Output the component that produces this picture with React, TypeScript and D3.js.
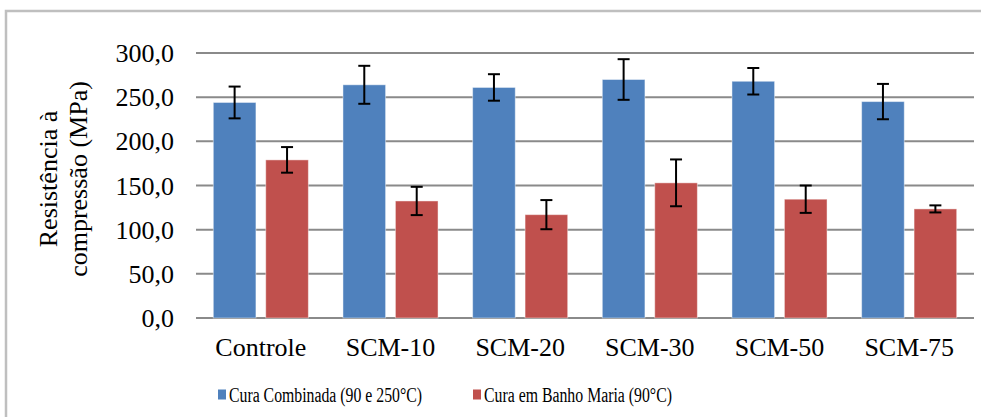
import React, { useEffect, useRef } from 'react';
import * as d3 from 'd3';

// Resistência à compressão por grupo de cura
const categories = ['Controle', 'SCM-10', 'SCM-20', 'SCM-30', 'SCM-50', 'SCM-75'];
const seriesNames = ['Cura Combinada (90 e 250°C)', 'Cura em Banho Maria (90°C)'];
const seriesColors = ['#4F81BD', '#C0504D'];
const combinada = [244, 264, 261, 270, 268, 245];
const combinadaErr = [18, 21.5, 15, 23, 15, 20];
const banhoMaria = [179, 132.5, 117, 153, 134.5, 123.5];
const banhoMariaErr = [14.5, 16, 16.5, 26.5, 15.5, 4];
const yTicks = [0, 50, 100, 150, 200, 250, 300];

const FONT = '"Liberation Serif", "Times New Roman", Times, serif';

const App = () => {
    const svgRef = useRef<SVGSVGElement>(null);

    useEffect(() => {
        if (!svgRef.current) return;
        const svg = d3.select(svgRef.current);
        svg.selectAll('*').remove();

        const width = 981;
        const height = 417;
        const left = 196;
        const right = 974;
        const top = 53;
        const bottom = 318;

        // outer chart frame (only top/left are visible in the crop)
        svg.append('rect')
            .attr('x', 6)
            .attr('y', 11)
            .attr('width', width + 40)
            .attr('height', height + 40)
            .attr('fill', 'white')
            .attr('stroke', '#bfbfbf')
            .attr('stroke-width', 2.5);

        const x0 = d3.scaleBand().domain(categories).range([left, right]).paddingInner(0).paddingOuter(0);
        const x1 = d3.scaleBand().domain(['0', '1']).range([0, x0.bandwidth()]).paddingInner(0.187).paddingOuter(0.33);
        const y = d3.scaleLinear().domain([0, 300]).range([bottom, top]);

        // gridlines
        svg.append('g')
            .selectAll('line')
            .data(yTicks)
            .enter()
            .append('line')
            .attr('x1', left)
            .attr('x2', right)
            .attr('y1', d => y(d))
            .attr('y2', d => y(d))
            .attr('stroke', '#8a8a8a')
            .attr('stroke-width', 2);

        // tick labels
        svg.append('g')
            .selectAll('text')
            .data(yTicks)
            .enter()
            .append('text')
            .attr('x', 174)
            .attr('y', d => y(d) + 9)
            .attr('text-anchor', 'end')
            .style('font-family', FONT)
            .style('font-size', '26px')
            .attr('fill', '#000')
            .text(d => d3.format('.1f')(d).replace('.', ','));

        // y axis title, two lines
        const yTitleLines = ['Resistência à', 'compressão (MPa)'];
        svg.append('g')
            .attr('transform', 'translate(57, 179) rotate(-90)')
            .selectAll('text')
            .data(yTitleLines)
            .enter()
            .append('text')
            .attr('x', 0)
            .attr('y', (d, i) => i * 30)
            .attr('text-anchor', 'middle')
            .style('font-family', FONT)
            .style('font-size', '26px')
            .attr('fill', '#000')
            .text(d => d);

        const series = [
            { values: combinada, errs: combinadaErr },
            { values: banhoMaria, errs: banhoMariaErr }
        ];

        series.forEach((s, si) => {
            const rows = categories.map((c, i) => ({ c, v: s.values[i], e: s.errs[i] }));
            const g = svg.append('g');
            g.selectAll('rect')
                .data(rows)
                .enter()
                .append('rect')
                .attr('x', d => (x0(d.c) as number) + (x1(String(si)) as number))
                .attr('y', d => y(d.v))
                .attr('width', x1.bandwidth())
                .attr('height', d => bottom - y(d.v))
                .attr('fill', seriesColors[si])
                .attr('stroke', 'rgba(255,255,255,0.45)')
                .attr('stroke-width', 1);

            // error bars
            rows.forEach(d => {
                const cx = (x0(d.c) as number) + (x1(String(si)) as number) + x1.bandwidth() / 2;
                const yt = y(d.v + d.e);
                const yb = y(d.v - d.e);
                g.append('line').attr('x1', cx).attr('x2', cx).attr('y1', yt).attr('y2', yb)
                    .attr('stroke', '#000').attr('stroke-width', 2);
                [yt, yb].forEach(yy => {
                    g.append('line').attr('x1', cx - 6).attr('x2', cx + 6).attr('y1', yy).attr('y2', yy)
                        .attr('stroke', '#000').attr('stroke-width', 2);
                });
            });
        });

        // category labels
        svg.append('g')
            .selectAll('text')
            .data(categories)
            .enter()
            .append('text')
            .attr('x', d => (x0(d) as number) + x0.bandwidth() / 2)
            .attr('y', 356)
            .attr('text-anchor', 'middle')
            .style('font-family', FONT)
            .style('font-size', '26px')
            .attr('fill', '#000')
            .text(d => d);

        // legend (condensed text as in the original)
        const legendX = [218, 473];
        const legendW = [193, 188];
        seriesNames.forEach((name, i) => {
            svg.append('rect')
                .attr('x', legendX[i])
                .attr('y', 389.5)
                .attr('width', 8)
                .attr('height', 10)
                .attr('fill', seriesColors[i]);
            svg.append('text')
                .attr('x', legendX[i] + 11)
                .attr('y', 401.5)
                .style('font-family', FONT)
                .style('font-size', '20px')
                .attr('textLength', legendW[i])
                .attr('lengthAdjust', 'spacingAndGlyphs')
                .attr('fill', '#000')
                .text(name);
        });
    }, []);

    return (
        <svg
            ref={svgRef}
            width={981}
            height={417}
            viewBox="0 0 981 417"
            style={{ position: 'absolute', left: 0, top: 0, background: 'white', overflow: 'hidden' }}
        />
    );
};

export default App;
